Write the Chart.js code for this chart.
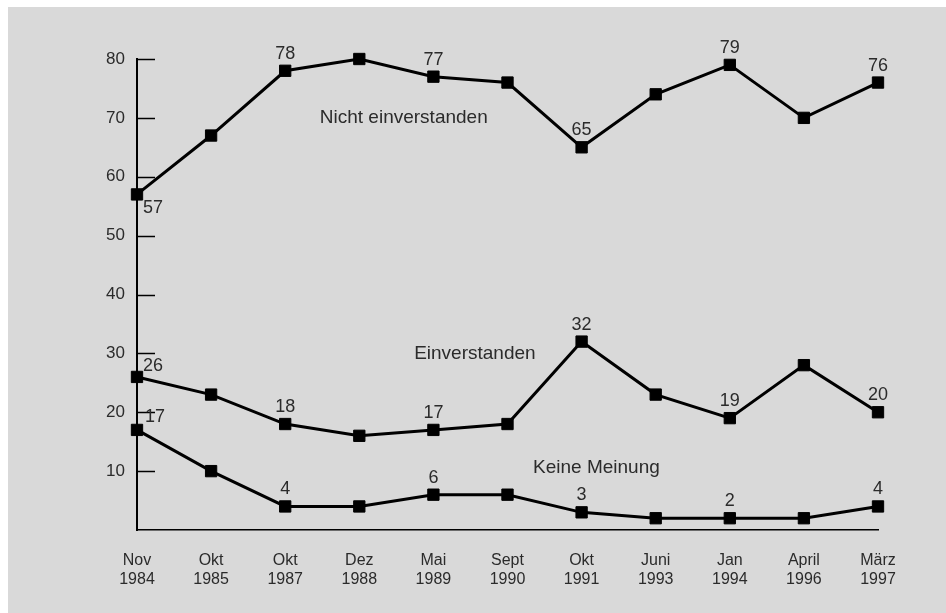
<!DOCTYPE html>
<html>
<head>
<meta charset="utf-8">
<script src="https://cdn.jsdelivr.net/npm/chart.js@4.4.1/dist/chart.umd.min.js"></script>
<style>
  body { margin: 0; background: #fff; }
  #wrap { width: 946px; height: 613px; }
</style>
</head>
<body>
<div id="wrap"><canvas id="myChart" width="946" height="613"></canvas></div>
<script>
const labels = [['Nov', '1984'], ['Okt', '1985'], ['Okt', '1987'], ['Dez', '1988'], ['Mai', '1989'], ['Sept', '1990'], ['Okt', '1991'], ['Juni', '1993'], ['Jan', '1994'], ['April', '1996'], ['März', '1997']];
const nichtEinverstanden = [57, 67, 78, 80, 77, 76, 65, 74, 79, 70, 76];
const einverstanden = [26, 23, 18, 16, 17, 18, 32, 23, 19, 28, 20];
const keineMeinung = [17, 10, 4, 4, 6, 6, 3, 2, 2, 2, 4];
const yTicks = [10, 20, 30, 40, 50, 60, 70, 80];

// which points get a number, and where it sits
const shownValues = [
  [[0, 'belowRight'], [2, 'above'], [4, 'above'], [6, 'above'], [8, 'above'], [10, 'above']],
  [[0, 'aboveRight'], [2, 'above'], [4, 'above'], [6, 'above'], [8, 'above'], [10, 'above']],
  [[0, 'right'], [2, 'above'], [4, 'above'], [6, 'above'], [8, 'above'], [10, 'above']]
];
// series names: [x index, y value]
const seriesNames = [
  ['Nicht einverstanden', 3.6, 70],
  ['Einverstanden', 4.56, 30],
  ['Keine Meinung', 6.2, 10.5]
];

const FONT = "'Liberation Sans', Arial, sans-serif";
const INK = '#2b2b2b';

const extras = {
  id: 'extras',
  beforeDraw(chart) {
    const c = chart.ctx;
    c.save();
    c.fillStyle = '#d9d9d9';
    c.fillRect(8, 7, chart.width - 8, chart.height - 7);
    c.restore();
  },
  afterDraw(chart) {
    const c = chart.ctx;
    const x = chart.scales.x;
    const y = chart.scales.y;
    c.save();
    // inner tick marks on the y axis
    c.strokeStyle = '#000';
    c.lineWidth = 1.5;
    yTicks.forEach(v => {
      const py = Math.round(y.getPixelForValue(v)) + 0.5;
      c.beginPath();
      c.moveTo(x.left, py);
      c.lineTo(x.left + 18, py);
      c.stroke();
    });
    // value labels
    c.fillStyle = INK;
    c.font = '18px ' + FONT;
    shownValues.forEach((list, di) => {
      const meta = chart.getDatasetMeta(di);
      const data = chart.data.datasets[di].data;
      list.forEach(([i, pos]) => {
        const pt = meta.data[i];
        let tx = pt.x, ty = pt.y;
        if (pos === 'above') { c.textAlign = 'center'; ty -= 17; }
        if (pos === 'belowRight') { c.textAlign = 'left'; tx += 6; ty += 14; }
        if (pos === 'aboveRight') { c.textAlign = 'left'; tx += 6; ty -= 11; }
        if (pos === 'right') { c.textAlign = 'left'; tx += 8; ty -= 13; }
        c.textBaseline = 'middle';
        c.fillText(String(data[i]), tx, ty);
      });
    });
    // series names
    c.font = '19px ' + FONT;
    c.textAlign = 'center';
    c.textBaseline = 'middle';
    seriesNames.forEach(([name, xi, yv]) => {
      c.fillText(name, x.getPixelForValue(xi), y.getPixelForValue(yv));
    });
    c.restore();
  }
};

const lineStyle = {
  borderColor: '#000',
  backgroundColor: '#000',
  borderWidth: 3,
  pointStyle: 'rect',
  pointRadius: 8,
  pointBorderWidth: 1,
  pointBackgroundColor: '#000',
  pointBorderColor: '#000',
  tension: 0,
  clip: false
};

new Chart(document.getElementById('myChart'), {
  type: 'line',
  data: {
    labels: labels,
    datasets: [
      Object.assign({ label: 'Nicht einverstanden', data: nichtEinverstanden }, lineStyle),
      Object.assign({ label: 'Einverstanden', data: einverstanden }, lineStyle),
      Object.assign({ label: 'Keine Meinung', data: keineMeinung }, lineStyle)
    ]
  },
  options: {
    responsive: false,
    animation: false,
    layout: { padding: { top: 59, right: 68, left: 0, bottom: 0 } },
    plugins: {
      legend: { display: false },
      tooltip: { enabled: false }
    },
    scales: {
      x: {
        offset: false,
        grid: { display: false, drawTicks: false },
        border: { display: true, color: '#000', width: 1.5 },
        afterFit(scale) { scale.height = 83; },
        ticks: {
          color: INK,
          padding: 21,
          maxRotation: 0,
          autoSkip: false,
          font: { family: FONT, size: 16, lineHeight: 1.2 }
        }
      },
      y: {
        min: 0,
        max: 80,
        grid: { display: false, drawTicks: false },
        border: { display: true, color: '#000', width: 2 },
        afterFit(scale) { scale.width = 137; },
        ticks: {
          stepSize: 10,
          color: INK,
          padding: 12,
          font: { family: FONT, size: 17 },
          callback: v => (v === 0 ? '' : v)
        }
      }
    }
  },
  plugins: [extras]
});
</script>
</body>
</html>
